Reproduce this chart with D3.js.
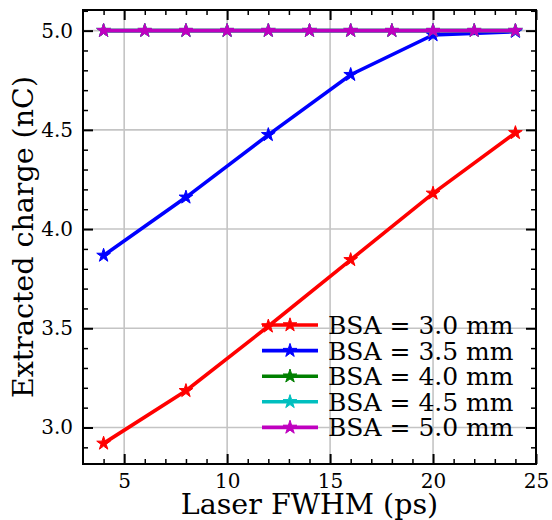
<!DOCTYPE html>
<html>
<head>
<meta charset="utf-8">
<script src="https://cdn.jsdelivr.net/npm/d3@7"></script>
<style>
  body { margin: 0; background: #fff; }
  text { font-family: "DejaVu Serif", serif; fill: #000; }
</style>
</head>
<body>
<script>
// 数据：激光脉宽 (ps) 与提取电荷 (nC)
var fwhm = [4, 8, 12, 16, 20, 24];
var fwhmFine = [4, 6, 8, 10, 12, 14, 16, 18, 20, 22, 24];
var bsa30 = [2.92, 3.185, 3.51, 3.845, 4.18, 4.485];
var bsa35 = [3.867, 4.16, 4.475, 4.778, 4.978, 4.995];
var bsa40 = [5.0, 5.0, 5.0, 5.0, 5.0, 5.0, 5.0, 5.0, 5.0, 5.0, 5.0];
var bsa45 = [5.0, 5.0, 5.0, 5.0, 5.0, 5.0, 5.0, 5.0, 5.0, 5.0, 5.0];
var bsa50 = [5.0, 5.0, 5.0, 5.0, 5.0, 5.0, 5.0, 5.0, 5.0, 5.0, 5.0];
var seriesNames = ["BSA = 3.0 mm", "BSA = 3.5 mm", "BSA = 4.0 mm", "BSA = 4.5 mm", "BSA = 5.0 mm"];
var seriesColors = ["#ff0000", "#0000ff", "#008000", "#00bfbf", "#bf00bf"];
var xTicks = [5, 10, 15, 20, 25];
var yTicks = [3.0, 3.5, 4.0, 4.5, 5.0];

var series = [
  {name: seriesNames[0], color: seriesColors[0], xs: fwhm, ys: bsa30},
  {name: seriesNames[1], color: seriesColors[1], xs: fwhm, ys: bsa35},
  {name: seriesNames[2], color: seriesColors[2], xs: fwhmFine, ys: bsa40},
  {name: seriesNames[3], color: seriesColors[3], xs: fwhmFine, ys: bsa45},
  {name: seriesNames[4], color: seriesColors[4], xs: fwhmFine, ys: bsa50}
];

var W = 552, H = 520;
// 绘图区边界（注意不能用 top 做变量名）
var pL = 83, pR = 536, pT = 10, pB = 464;

var svg = d3.select("body").append("svg")
  .attr("width", W).attr("height", H);

var x = d3.scaleLinear().domain([3, 25]).range([pL, pR]);
var y = d3.scaleLinear().domain([2.816, 5.104]).range([pB, pT]);

// 网格
var grid = svg.append("g");
grid.selectAll("line.gx").data(xTicks).enter().append("line")
  .attr("x1", d => x(d)).attr("x2", d => x(d))
  .attr("y1", pT).attr("y2", pB)
  .attr("stroke", "#c4c4c4").attr("stroke-width", 1.6);
grid.selectAll("line.gy").data(yTicks).enter().append("line")
  .attr("x1", pL).attr("x2", pR)
  .attr("y1", d => y(d)).attr("y2", d => y(d))
  .attr("stroke", "#c4c4c4").attr("stroke-width", 1.6);

// 曲线
var line = d3.line().x(d => x(d[0])).y(d => y(d[1]));
var star = d3.symbol().type(d3.symbolStar).size(58);

series.forEach(function (s) {
  var pts = s.xs.map((v, i) => [v, s.ys[i]]);
  var g = svg.append("g");
  g.append("path").attr("d", line(pts))
    .attr("fill", "none").attr("stroke", s.color).attr("stroke-width", 3.6);
  g.selectAll("path.m").data(pts).enter().append("path")
    .attr("d", star)
    .attr("transform", d => "translate(" + x(d[0]) + "," + y(d[1]) + ")")
    .attr("fill", s.color).attr("stroke", s.color).attr("stroke-width", 1);
});

// 坐标轴（刻度朝内，四边都有）
function makeAxis(orient, scale) {
  return (orient === "bottom" ? d3.axisBottom : orient === "top" ? d3.axisTop :
          orient === "left" ? d3.axisLeft : d3.axisRight)(scale);
}
function axes(scale, major, minor, orient, pos) {
  var g = svg.append("g").attr("transform", pos);
  var ax = makeAxis(orient, scale);
  var axMinor = makeAxis(orient, scale);
  axMinor.tickValues(minor).tickSize(-5).tickFormat("");
  ax.tickValues(major).tickSize(-10).tickPadding(orient === "bottom" ? 10 : 10);
  var gm = g.append("g").call(axMinor);
  var gM = g.append("g").call(ax);
  gm.select(".domain").remove();
  gM.select(".domain").remove();
  gm.selectAll("line").attr("stroke", "#000").attr("stroke-width", 1.5);
  gM.selectAll("line").attr("stroke", "#000").attr("stroke-width", 2);
  gM.selectAll("text").attr("font-size", 20).attr("font-family", "DejaVu Serif");
  if (orient === "top" || orient === "right") gM.selectAll("text").remove();
  return gM;
}
var xMinor = d3.range(4, 25, 1).filter(v => xTicks.indexOf(v) < 0);
var yMinor = d3.range(2.9, 5.101, 0.1).map(v => +v.toFixed(1)).filter(v => yTicks.indexOf(v) < 0);

axes(x, xTicks, xMinor, "bottom", "translate(0," + pB + ")");
axes(x, xTicks, xMinor, "top", "translate(0," + pT + ")");
var gy = axes(y, yTicks, yMinor, "left", "translate(" + pL + ",0)");
gy.selectAll("text").text(d => d3.format(".1f")(d));
axes(y, yTicks, yMinor, "right", "translate(" + pR + ",0)");

// 外框
svg.append("rect")
  .attr("x", pL).attr("y", pT)
  .attr("width", pR - pL).attr("height", pB - pT)
  .attr("fill", "none").attr("stroke", "#000").attr("stroke-width", 2);

// 轴标题
svg.append("text")
  .attr("x", (pL + pR) / 2).attr("y", 514)
  .attr("text-anchor", "middle").attr("font-size", 28.5)
  .text("Laser FWHM (ps)");
svg.append("text")
  .attr("transform", "translate(33," + (pT + pB) / 2 + ") rotate(-90)")
  .attr("text-anchor", "middle").attr("font-size", 28.5)
  .text("Extracted charge (nC)");

// 图例
var legend = svg.append("g");
series.forEach(function (s, i) {
  var ly = 325 + i * 25.6;
  legend.append("line")
    .attr("x1", 262).attr("x2", 318).attr("y1", ly).attr("y2", ly)
    .attr("stroke", s.color).attr("stroke-width", 3.6);
  legend.append("path").attr("d", star)
    .attr("transform", "translate(290," + ly + ")")
    .attr("fill", s.color).attr("stroke", s.color).attr("stroke-width", 1);
  legend.append("text")
    .attr("x", 328).attr("y", ly).attr("dy", "0.36em")
    .attr("font-size", 25)
    .text(s.name);
});
</script>
</body>
</html>
